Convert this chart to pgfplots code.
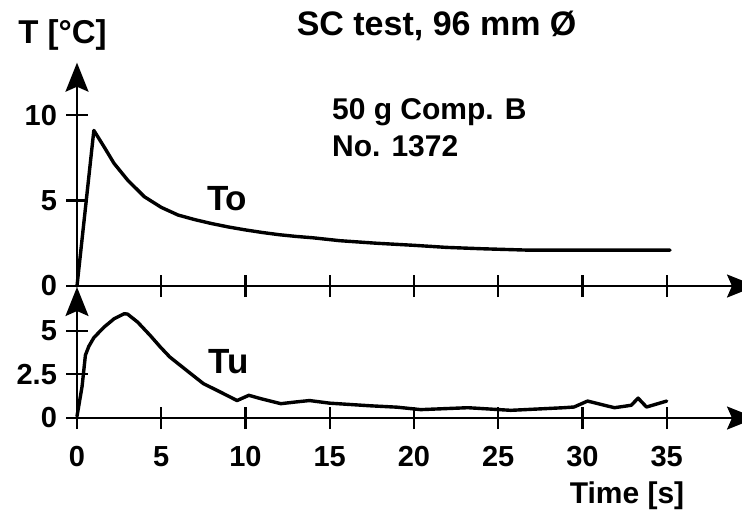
\documentclass[border=0pt]{standalone}
\usepackage{pgfplots}
\pgfplotsset{compat=1.18}
\usepackage{fontspec}
\setmainfont{Liberation Sans}
\usetikzlibrary{arrows.meta}

\pgfplotsset{
  myaxis/.style={
    scale only axis,
    axis lines=left,
    axis line style={line width=1.1pt, -{Stealth[length=14.5pt,width=11.5pt,inset=2.5pt]}},
    tick style={line width=1.1pt, black},
    tick align=center,
    major tick length=11pt,
    xmin=0, xmax=40.3,
    width=339.5pt,
    clip=false,
    ymin=0,
    ticklabel style={font=\fontsize{14.5}{16}\selectfont\bfseries},
    xticklabel style={yshift=-5pt},
    yticklabel style={xshift=-1pt},
    /pgf/number format/assume math mode=true,
  },
  curve/.style={black, no markers, line width=1.7pt, line join=round, line cap=round},
}

\begin{document}
\begin{tikzpicture}
\useasboundingbox (0pt,0pt) rectangle (371pt,258pt);

% upper panel: To
\begin{axis}[myaxis,
  at={(38.5pt,115pt)}, anchor=south west,
  height=111.65pt, ymax=13.06,
  ytick={0,5,10},
  xtick={5,10,...,35}, xticklabels={},
]
\addplot[curve] coordinates {
(0,0) (1.0,9.1) (1.6,8.15) (2.2,7.17) (3.0,6.2) (4.0,5.22) (5.0,4.6)
(6.0,4.15) (7.0,3.88) (8.0,3.65) (9.0,3.45) (10.0,3.28) (11.0,3.13)
(12.0,3.0) (13.0,2.9) (14.0,2.82) (15.6,2.65) (17.8,2.5) (20,2.38)
(21.9,2.26) (24,2.18) (26.7,2.1) (30,2.1) (35.2,2.1)
};
\end{axis}

% lower panel: Tu
\begin{axis}[myaxis,
  at={(38.5pt,49pt)}, anchor=south west,
  height=65.5pt, ymax=7.5,
  ytick={0,2.5,5},
  xtick={0,5,...,35},
]
\addplot[curve] coordinates {
(0,0.1) (0.3,1.8) (0.5,3.6) (0.7,4.1) (1.0,4.6) (1.6,5.2) (2.2,5.68)
(2.8,5.97) (3.0,5.95) (3.6,5.49) (4.35,4.72) (4.95,4.06) (5.5,3.5)
(6.5,2.73) (7.5,1.97) (8.5,1.49) (9.5,1.0) (10.2,1.3) (10.9,1.11)
(12.1,0.82) (12.9,0.91) (13.8,1.0) (15,0.85) (17.4,0.7) (19,0.62)
(20.4,0.48) (23.2,0.59) (25.75,0.44) (28.9,0.59) (29.5,0.63) (30.3,0.97)
(31.3,0.73) (31.9,0.59) (32.9,0.73) (33.3,1.14) (33.8,0.63) (35.0,0.97)
};
\end{axis}

\node[anchor=base, inner sep=0pt, font=\fontsize{17}{20}\selectfont\bfseries] at (218.3pt,240.5pt) {SC test, 96 mm Ø};
\node[anchor=base, inner sep=0pt, font=\fontsize{16.5}{19}\selectfont\bfseries] at (31.25pt,236.3pt) {T [°C]};
\node[anchor=base, inner sep=0pt, font=\fontsize{15}{18}\selectfont\bfseries] at (313.5pt,6.35pt) {Time [s]};
\node[anchor=base west, inner sep=0pt, font=\fontsize{15}{18}\selectfont\bfseries] at (165.85pt,198.35pt) {50 g Comp. B};
\node[anchor=base west, inner sep=0pt, font=\fontsize{15}{18}\selectfont\bfseries] at (165.85pt,180pt) {No. 1372};
\node[anchor=base west, inner sep=0pt, font=\fontsize{17.5}{20}\selectfont\bfseries] at (103.3pt,153pt) {To};
\node[anchor=base west, inner sep=0pt, font=\fontsize{17.5}{20}\selectfont\bfseries] at (104.2pt,71.35pt) {Tu};
\end{tikzpicture}
\end{document}
